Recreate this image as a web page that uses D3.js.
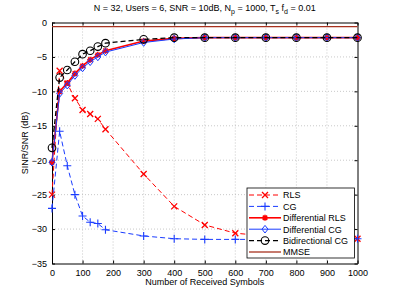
<!DOCTYPE html>
<html>
<head>
<meta charset="utf-8">
<script src="https://cdn.jsdelivr.net/npm/d3@7"></script>
<style>
  body { margin: 0; background: #fff; }
  text { font-family: "Liberation Sans", Arial, sans-serif; }
</style>
</head>
<body>
<div id="chart"></div>
<script>
// Plot constants
const WIDTH = 395;
const HEIGHT = 296;
const margin = {top: 22.5, right: 37.5, bottom: 32.5, left: 52};

// Data
const symbols = [0, 25, 50, 75, 100, 125, 150, 175, 300, 400, 500, 600, 700, 800, 900, 1000];
const rls = [-25.0, -7.0, -8.9, -11.0, -12.7, -13.3, -14.0, -15.5, -22.0, -26.7, -29.4, -30.6, -31.0, -31.2, -31.3, -31.4];
const cg = [-27.0, -15.8, -20.8, -25.0, -28.1, -29.0, -29.2, -30.1, -31.0, -31.4, -31.5, -31.5, -31.5, -31.5, -31.5, -31.4];
const diffRls = [-20.3, -10.0, -8.8, -7.4, -6.3, -5.4, -4.7, -4.1, -2.7, -2.3, -2.2, -2.2, -2.2, -2.2, -2.2, -2.2];
const diffCg = [-20.3, -10.3, -9.1, -7.7, -6.6, -5.7, -5.0, -4.3, -2.9, -2.4, -2.2, -2.2, -2.2, -2.2, -2.2, -2.2];
const bidirCg = [-18.2, -8.0, -6.9, -5.7, -4.6, -4.1, -3.5, -3.0, -2.45, -2.2, -2.2, -2.2, -2.2, -2.2, -2.2, -2.2];
const mmseX = [0, 1000];
const mmseY = [-0.6, -0.6];

const xTicks = [0, 100, 200, 300, 400, 500, 600, 700, 800, 900, 1000];
const yTicks = [0, -5, -10, -15, -20, -25, -30, -35];

const series = [
  {name: "RLS", x: symbols, y: rls, color: "#ff0000", dash: "5,3", width: 1, marker: "x"},
  {name: "CG", x: symbols, y: cg, color: "#1a3cff", dash: "5,3", width: 1, marker: "plus"},
  {name: "Differential RLS", x: symbols, y: diffRls, color: "#ff0000", dash: null, width: 1.6, marker: "star"},
  {name: "Differential CG", x: symbols, y: diffCg, color: "#1a3cff", dash: null, width: 1, marker: "diamond"},
  {name: "Bidirectional CG", x: symbols, y: bidirCg, color: "#000000", dash: "5,3", width: 1.3, marker: "circle"},
  {name: "MMSE", x: mmseX, y: mmseY, color: "#a8321f", dash: null, width: 1.3, marker: null},
];

const svg = d3
  .select("#chart")
  .append("svg")
  .attr("width", WIDTH)
  .attr("height", HEIGHT);

const x = d3
  .scaleLinear()
  .domain([0, 1000])
  .range([margin.left, WIDTH - margin.right]);
const y = d3
  .scaleLinear()
  .domain([-35, 0])
  .range([HEIGHT - margin.bottom, margin.top]);

// Grid
const grid = svg.append("g").attr("stroke", "#b0b0b0").attr("stroke-width", 0.7).attr("stroke-dasharray", "1,2");
grid.selectAll(".gx").data(xTicks.slice(1, -1)).join("line")
  .attr("x1", d => x(d)).attr("x2", d => x(d))
  .attr("y1", y(0)).attr("y2", y(-35));
grid.selectAll(".gy").data(yTicks.slice(1, -1)).join("line")
  .attr("x1", x(0)).attr("x2", x(1000))
  .attr("y1", d => y(d)).attr("y2", d => y(d));

// Axes (ticks inside, MATLAB box)
const fmt = d => (d < 0 ? "\u2212" + Math.abs(d) : d);
svg.append("g")
  .attr("transform", `translate(0,${y(-35)})`)
  .call(d3.axisBottom(x).tickValues(xTicks).tickFormat(d3.format("d")).tickSizeInner(-3).tickSizeOuter(0).tickPadding(6));
svg.append("g")
  .attr("transform", `translate(${x(0)},0)`)
  .call(d3.axisLeft(y).tickValues(yTicks).tickFormat(fmt).tickSizeInner(-3).tickSizeOuter(0).tickPadding(5));
svg.append("g")
  .attr("transform", `translate(0,${y(0)})`)
  .call(d3.axisTop(x).tickValues(xTicks).tickSizeInner(-3).tickSizeOuter(0).tickFormat(""));
svg.append("g")
  .attr("transform", `translate(${x(1000)},0)`)
  .call(d3.axisRight(y).tickValues(yTicks).tickSizeInner(-3).tickSizeOuter(0).tickFormat(""));
svg.selectAll(".domain").attr("stroke", "#000");
svg.selectAll(".tick line").attr("stroke", "#000");
svg.selectAll(".tick text").attr("font-size", 9).attr("font-family", "Liberation Sans, Arial, sans-serif").attr("fill", "#000");

// Markers
function drawMarker(sel, type, color) {
  if (type === "x") {
    sel.append("path").attr("d", "M-3,-3L3,3M-3,3L3,-3").attr("stroke", color).attr("stroke-width", 1.3).attr("fill", "none");
  } else if (type === "plus") {
    sel.append("path").attr("d", "M-4,0L4,0M0,-4L0,4").attr("stroke", color).attr("stroke-width", 1.1).attr("fill", "none");
  } else if (type === "star") {
    sel.append("path").attr("d", "M-3,0L3,0M0,-3L0,3M-2.2,-2.2L2.2,2.2M-2.2,2.2L2.2,-2.2").attr("stroke", color).attr("stroke-width", 1.5).attr("fill", "none");
  } else if (type === "diamond") {
    sel.append("path").attr("d", "M0,-3.8L3,0L0,3.8L-3,0Z").attr("stroke", color).attr("stroke-width", 1).attr("fill", "none");
  } else if (type === "circle") {
    sel.append("circle").attr("r", 3.8).attr("stroke", color).attr("stroke-width", 1.1).attr("fill", "none");
  }
}

const line = d3.line().x(d => x(d[0])).y(d => y(d[1]));

series.forEach(s => {
  const pts = s.x.map((v, i) => [v, s.y[i]]);
  svg.append("path")
    .datum(pts)
    .attr("d", line)
    .attr("fill", "none")
    .attr("stroke", s.color)
    .attr("stroke-width", s.width)
    .attr("stroke-dasharray", s.dash);
  if (s.marker) {
    svg.append("g").selectAll("g").data(pts).join("g")
      .attr("transform", d => `translate(${x(d[0])},${y(d[1])})`)
      .each(function () { drawMarker(d3.select(this), s.marker, s.color); });
  }
});

// Title
const title = svg.append("text")
  .attr("x", (x(0) + x(1000)) / 2)
  .attr("y", 11)
  .attr("text-anchor", "middle")
  .attr("font-size", 9);
title.append("tspan").text("N = 32, Users = 6, SNR = 10dB, N");
title.append("tspan").attr("dy", 2.5).attr("font-size", 7).text("p");
title.append("tspan").attr("dy", -2.5).text(" = 1000, T");
title.append("tspan").attr("dy", 2.5).attr("font-size", 7).text("s");
title.append("tspan").attr("dy", -2.5).text(" f");
title.append("tspan").attr("dy", 2.5).attr("font-size", 7).text("d");
title.append("tspan").attr("dy", -2.5).text(" = 0.01");

// Axis labels
svg.append("text")
  .attr("x", (x(0) + x(1000)) / 2)
  .attr("y", 285)
  .attr("text-anchor", "middle")
  .attr("font-size", 9)
  .text("Number of Received Symbols");
svg.append("text")
  .attr("transform", `translate(28,${(y(0) + y(-35)) / 2}) rotate(-90)`)
  .attr("text-anchor", "middle")
  .attr("font-size", 9)
  .text("SINR/SNR (dB)");

// Legend
const lg = svg.append("g").attr("transform", "translate(247,188)");
lg.append("rect").attr("width", 107.5).attr("height", 70).attr("fill", "#fff").attr("stroke", "#000").attr("stroke-width", 0.8);
series.forEach((s, i) => {
  const row = lg.append("g").attr("transform", `translate(0,${7 + i * 11.4})`);
  row.append("line").attr("x1", 2).attr("x2", 34).attr("y1", 0).attr("y2", 0)
    .attr("stroke", s.color).attr("stroke-width", s.width).attr("stroke-dasharray", s.dash);
  if (s.marker) {
    const m = row.append("g").attr("transform", "translate(18,0)");
    drawMarker(m, s.marker, s.color);
  }
  row.append("text").attr("x", 36).attr("y", 3.3).attr("font-size", 9).text(s.name);
});
</script>
</body>
</html>
